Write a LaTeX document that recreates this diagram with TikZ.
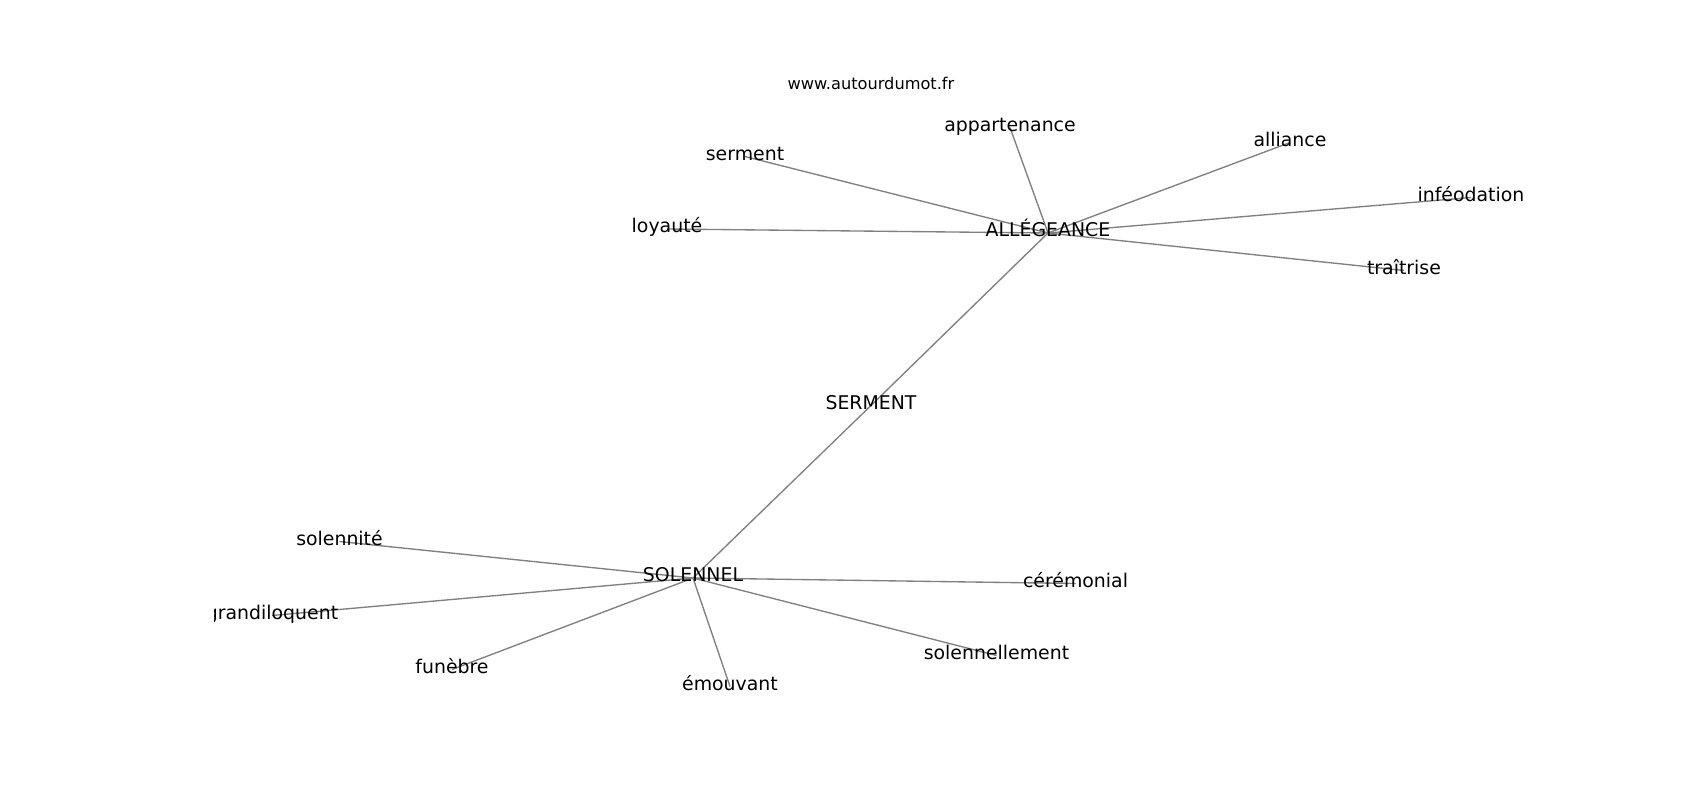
\documentclass[tikz,border=0pt]{standalone}
\usepackage{fontspec}
\setmainfont{DejaVu Sans}
\usetikzlibrary{backgrounds}
\definecolor{edgegray}{HTML}{808080}
\tikzset{
  lbl/.style={inner sep=0pt, outer sep=0pt, text height=0.76em, text depth=0.223em,
              font=\fontsize{13.6pt}{16pt}\selectfont, text=black},
  ttl/.style={inner sep=0pt, anchor=base, font=\fontsize{11.66pt}{14pt}\selectfont, text=black},
  edge/.style={draw=edgegray, line width=0.97pt}
}
\begin{document}
\begin{tikzpicture}[x=0.72pt, y=-0.72pt]
\useasboundingbox (0,0) rectangle (1700,800);
\node[ttl] (title) at (871,89) {www.autourdumot.fr};
\begin{scope}
\clip (214.5,96) rectangle (1530,712);
% hubs
\node[lbl] (alleg) at (1048,233) {ALLÉGEANCE};
\node[lbl] (serm) at (871,405.5) {SERMENT};
\node[lbl] (solen) at (693,578) {SOLENNEL};
% leaves of ALLÉGEANCE
\node[lbl] (serment) at (745,156.5) {serment};
\node[lbl] (loyaute) at (667,229) {loyauté};
\node[lbl] (appart) at (1010,127.5) {appartenance};
\node[lbl] (alliance) at (1290,142.5) {alliance};
\node[lbl] (infeod) at (1471,197.5) {inféodation};
\node[lbl] (traitrise) at (1404,270.5) {traîtrise};
% leaves of SOLENNEL
\node[lbl] (solennite) at (339.5,541.5) {solennité};
\node[lbl] (grandi) at (272,615.5) {grandiloquent};
\node[lbl] (funebre) at (452,669.5) {funèbre};
\node[lbl] (emouv) at (730,686.5) {émouvant};
\node[lbl] (solennel2) at (996.5,655.5) {solennellement};
\node[lbl] (ceremon) at (1075.5,583.5) {cérémonial};
\end{scope}
\begin{pgfonlayer}{background}
\fill[white] (0,0) rectangle (1700,800);
\draw[edge] (alleg.center) -- (serm.center);
\draw[edge] (serm.center) -- (solen.center);
\draw[edge] (alleg.center) -- (serment.center);
\draw[edge] (alleg.center) -- (loyaute.center);
\draw[edge] (alleg.center) -- (appart.center);
\draw[edge] (alleg.center) -- (alliance.center);
\draw[edge] (alleg.center) -- (infeod.center);
\draw[edge] (alleg.center) -- (traitrise.center);
\draw[edge] (solen.center) -- (solennite.center);
\draw[edge] (solen.center) -- (grandi.center);
\draw[edge] (solen.center) -- (funebre.center);
\draw[edge] (solen.center) -- (emouv.center);
\draw[edge] (solen.center) -- (solennel2.center);
\draw[edge] (solen.center) -- (ceremon.center);
\end{pgfonlayer}
\end{tikzpicture}
\end{document}
